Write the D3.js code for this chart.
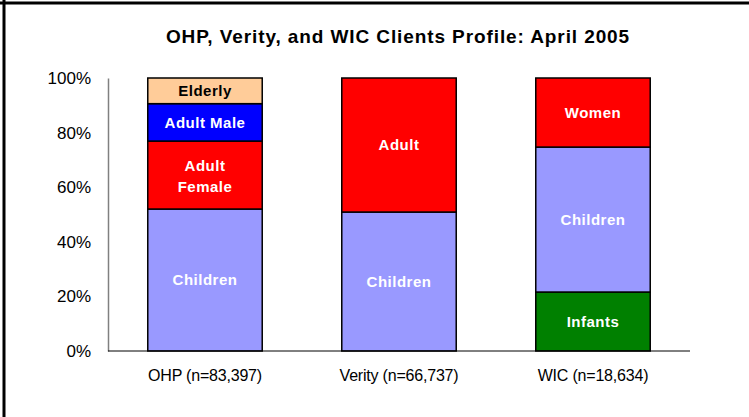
<!DOCTYPE html>
<html>
<head>
<meta charset="utf-8">
<script src="https://cdn.jsdelivr.net/npm/d3@7"></script>
<style>
  body { margin: 0; background: #fff; }
  text { font-family: Arial, "Liberation Sans", sans-serif; }
</style>
</head>
<body>
<script>
// programs and sample sizes
const programs = ["OHP (n=83,397)", "Verity (n=66,737)", "WIC (n=18,634)"];

// segments per program, bottom to top, share of clients
const ohpSegments = [
  { name: "Children", value: 0.52 },
  { name: "Adult\nFemale", value: 0.249 },
  { name: "Adult Male", value: 0.137 },
  { name: "Elderly", value: 0.094 }
];
const veritySegments = [
  { name: "Children", value: 0.509 },
  { name: "Adult", value: 0.491 }
];
const wicSegments = [
  { name: "Infants", value: 0.216 },
  { name: "Children", value: 0.531 },
  { name: "Women", value: 0.253 }
];
const yTicks = [0, 0.2, 0.4, 0.6, 0.8, 1.0];
const titleText = "OHP, Verity, and WIC Clients Profile: April 2005";

const colors = {
  "Children": "#9999ff",
  "Adult\nFemale": "#ff0000",
  "Adult": "#ff0000",
  "Women": "#ff0000",
  "Adult Male": "#0000ff",
  "Elderly": "#ffcc99",
  "Infants": "#008000"
};

const w = 749, h = 417;
const margin = { left: 108, right: 59, top: 78, bottom: 66 };

const svg = d3.select("body").append("svg")
  .attr("width", w)
  .attr("height", h);

svg.append("rect").attr("width", w).attr("height", h).attr("fill", "#fff");

// frame lines (top and left)
svg.append("line").attr("x1", 0).attr("x2", w).attr("y1", 3).attr("y2", 3)
  .attr("stroke", "#000").attr("stroke-width", 3);
svg.append("line").attr("x1", 4).attr("x2", 4).attr("y1", 0).attr("y2", h)
  .attr("stroke", "#000").attr("stroke-width", 3);

const x = d3.scaleBand()
  .domain(programs)
  .range([margin.left, w - margin.right])
  .paddingInner(0.41)
  .paddingOuter(0.205);

const y = d3.scaleLinear()
  .domain([0, 1])
  .range([h - margin.bottom, margin.top]);

svg.append("text")
  .attr("x", 398)
  .attr("y", 43)
  .attr("text-anchor", "middle")
  .style("font-size", "19px")
  .style("font-weight", "bold")
  .style("letter-spacing", "0.9px")
  .text(titleText);

// y axis
const yAxis = svg.append("g")
  .attr("transform", `translate(${margin.left},0)`)
  .call(d3.axisLeft(y).tickValues(yTicks).tickFormat(d3.format(".0%")).tickSize(0).tickPadding(17));
yAxis.select(".domain").attr("stroke", "#808080").attr("stroke-width", 1.5);
yAxis.selectAll("text").style("font-size", "17px").attr("fill", "#000")
  .attr("font-family", "Arial, 'Liberation Sans', sans-serif");

const allSegments = [ohpSegments, veritySegments, wicSegments];

allSegments.forEach((segs, i) => {
  const prog = programs[i];
  let acc = 0;
  const stacked = segs.map(s => {
    const r = { name: s.name, y0: acc, y1: acc + s.value };
    acc += s.value;
    return r;
  });
  const g = svg.append("g");
  g.selectAll("rect")
    .data(stacked)
    .join("rect")
    .attr("x", x(prog))
    .attr("width", x.bandwidth())
    .attr("y", d => y(d.y1))
    .attr("height", d => y(d.y0) - y(d.y1))
    .attr("fill", d => colors[d.name])
    .attr("stroke", "#000")
    .attr("stroke-width", 1.5);

  const labels = g.selectAll("text")
    .data(stacked)
    .join("text")
    .attr("text-anchor", "middle")
    .attr("x", x(prog) + x.bandwidth() / 2)
    .attr("y", d => y((d.y0 + d.y1) / 2))
    .style("font-size", "15px")
    .style("font-weight", "bold")
    .style("letter-spacing", "0.5px")
    .attr("fill", d => d.name === "Elderly" ? "#000" : "#fff");

  labels.each(function (d) {
    const lines = d.name.split("\n");
    const t = d3.select(this);
    lines.forEach((ln, k) => {
      t.append("tspan")
        .attr("x", x(prog) + x.bandwidth() / 2)
        .attr("dy", k === 0 ? `${0.35 - (lines.length - 1) * 0.6}em` : "1.4em")
        .text(ln);
    });
  });
});

// baseline
svg.append("line")
  .attr("x1", margin.left).attr("x2", w - margin.right)
  .attr("y1", y(0)).attr("y2", y(0))
  .attr("stroke", "#000").attr("stroke-width", 1);

// category labels
svg.append("g").selectAll("text")
  .data(programs)
  .join("text")
  .attr("x", d => x(d) + x.bandwidth() / 2)
  .attr("y", y(0) + 30)
  .attr("text-anchor", "middle")
  .style("font-size", "16px")
  .style("letter-spacing", "-0.2px")
  .text(d => d);
</script>
</body>
</html>
